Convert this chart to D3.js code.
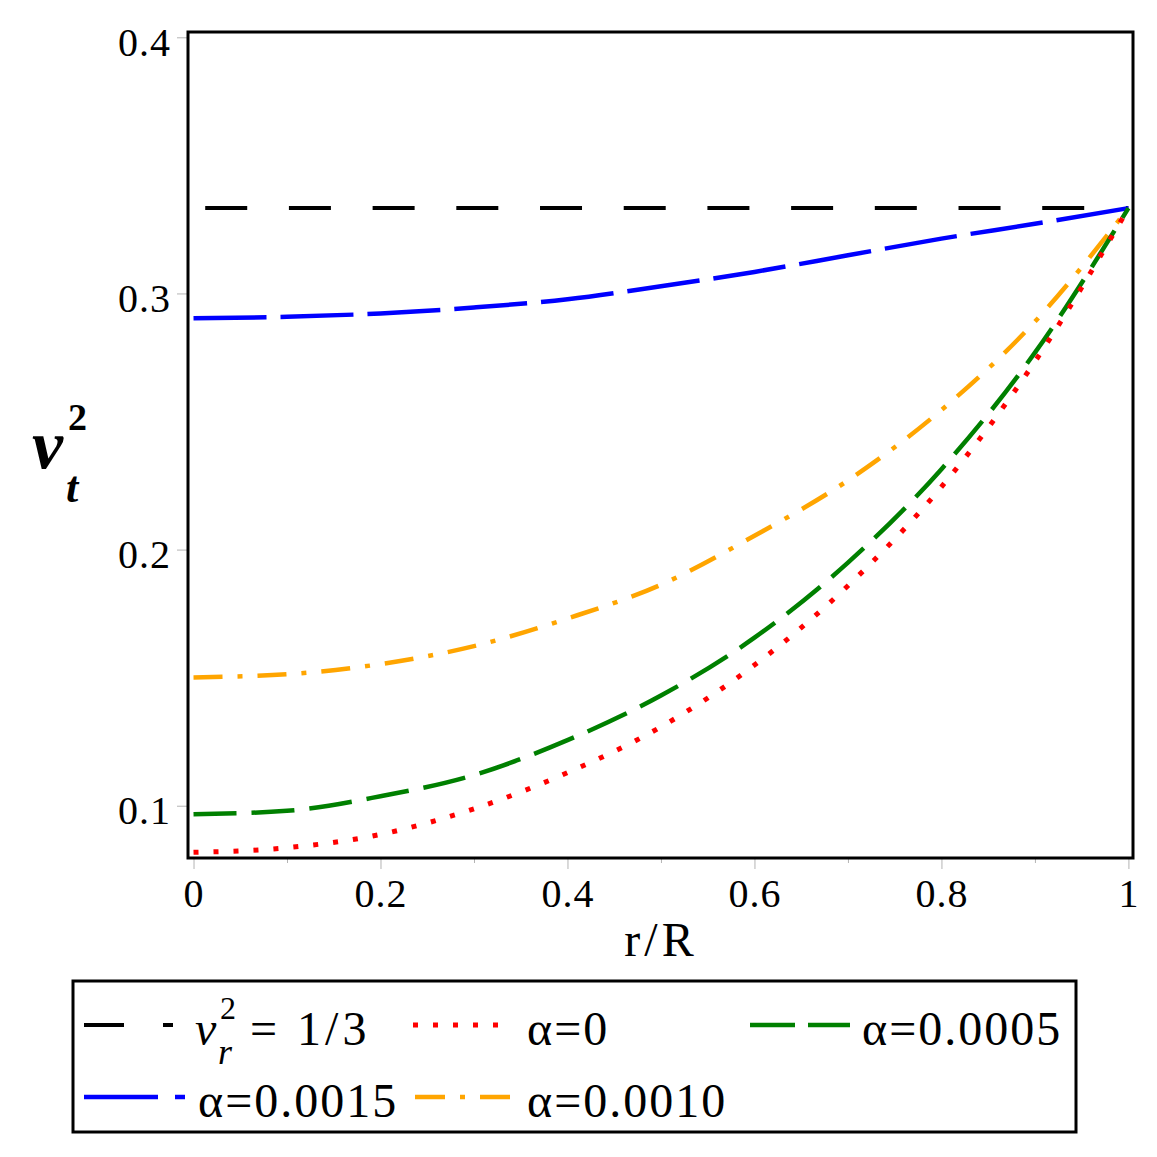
<!DOCTYPE html>
<html>
<head>
<meta charset="utf-8">
<script src="https://cdn.jsdelivr.net/npm/d3@7"></script>
<style>
  html, body { margin: 0; padding: 0; background: #fff; }
  svg { display: block; font-family: "Liberation Serif", "DejaVu Serif", serif; }
</style>
</head>
<body>
<div id="chart"></div>
<script>
// r/R sample points
const radius = [0, 0.1, 0.2, 0.3, 0.4, 0.5, 0.6, 0.7, 0.8, 0.9, 1]

// v_t^2, one array per alpha
const alpha0 = [0.0818, 0.0836, 0.0888, 0.0988, 0.1129, 0.1308, 0.1549, 0.1859, 0.2245, 0.2734, 0.3333]
const alpha0005 = [0.0967, 0.0980, 0.1037, 0.1120, 0.1256, 0.1430, 0.1656, 0.1949, 0.2314, 0.2769, 0.3333]
const alpha0010 = [0.1501, 0.1513, 0.1553, 0.1623, 0.1731, 0.1863, 0.2054, 0.2270, 0.2545, 0.2890, 0.3333]
const alpha0015 = [0.2903, 0.2909, 0.2922, 0.2945, 0.2977, 0.3028, 0.3084, 0.3149, 0.3214, 0.3272, 0.3333]
const radialLevel = [1 / 3, 1 / 3]
const radialRadius = [0, 1]

const xTicks = [0, 0.2, 0.4, 0.6, 0.8, 1]
const xMinorTicks = [0.1, 0.3, 0.5, 0.7, 0.9]
const yTicks = [0.1, 0.2, 0.3, 0.4]

document.addEventListener('DOMContentLoaded', () => draw());

function draw() {
    const W = 1157, H = 1157
    const frame = { left: 188, right: 1133, top: 32, bottom: 858 }

    const svg = d3.select('#chart').append('svg')
        .attr('width', W).attr('height', H)
        .attr('viewBox', [0, 0, W, H])

    const x = d3.scaleLinear().domain([-0.0059, 1.0049]).range([frame.left, frame.right])
    const y = d3.scaleLinear().domain([0.07959, 0.40207]).range([frame.bottom, frame.top])

    // axes, light grey outward ticks
    const fmt = d3.format('~g')
    svg.append('g')
        .attr('transform', `translate(0, ${frame.bottom})`)
        .call(d3.axisBottom(x).tickValues(xTicks).tickSize(11).tickPadding(10).tickFormat(fmt))
    svg.append('g')
        .attr('transform', `translate(0, ${frame.bottom})`)
        .call(d3.axisBottom(x).tickValues(xMinorTicks).tickSize(5).tickFormat(''))
    const gy = svg.append('g')
        .attr('transform', `translate(${frame.left}, 0)`)
        .call(d3.axisLeft(y).tickValues(yTicks).tickSize(11).tickPadding(6).tickFormat(d3.format('.1f')))
    svg.selectAll('.domain').remove()
    svg.selectAll('.tick line').attr('stroke', '#b4b4b4').attr('stroke-width', 1)
    svg.selectAll('.tick text')
        .attr('fill', '#000')
        .attr('font-family', '"Liberation Serif", serif')
        .attr('font-size', 40)
        .attr('letter-spacing', 1)
    gy.selectAll('.tick text').attr('dy', '0.45em')

    svg.append('clipPath').attr('id', 'plot-clip')
        .append('rect')
        .attr('x', frame.left).attr('y', frame.top)
        .attr('width', frame.right - frame.left).attr('height', frame.bottom - frame.top)

    const series = [
        { xs: radialRadius, ys: radialLevel, color: '#000000', dash: '42 41.7', legendDash: '40 39', offset: 72, width: 4 },
        { xs: radius, ys: alpha0015, color: '#0000ff', dash: '73 14', legendDash: '74 17', offset: 0, width: 4.5 },
        { xs: radius, ys: alpha0010, color: '#ffa500', dash: '29 15 5 15', legendDash: '30 15 5 15', offset: 0, width: 4.5 },
        { xs: radius, ys: alpha0005, color: '#008000', dash: '43 15', legendDash: '45 13', offset: 0, width: 4.5 },
        { xs: radius, ys: alpha0, color: '#ff0000', dash: '5 15', legendDash: '5 15', offset: 0, width: 5 }
    ]

    const line = d3.line()
        .x(d => x(d[0]))
        .y(d => y(d[1]))
        .curve(d3.curveMonotoneX)

    svg.append('g').attr('clip-path', 'url(#plot-clip)')
        .selectAll('path')
        .data(series)
        .join('path')
        .attr('d', s => line(s.xs.map((v, i) => [v, s.ys[i]])))
        .attr('fill', 'none')
        .attr('stroke', s => s.color)
        .attr('stroke-width', s => s.width)
        .attr('stroke-dasharray', s => s.dash)
        .attr('stroke-dashoffset', s => s.offset)

    // frame
    svg.append('rect')
        .attr('x', frame.left).attr('y', frame.top)
        .attr('width', frame.right - frame.left).attr('height', frame.bottom - frame.top)
        .attr('fill', 'none').attr('stroke', '#000').attr('stroke-width', 3)

    // axis titles
    svg.append('text')
        .attr('x', 661).attr('y', 956)
        .attr('text-anchor', 'middle')
        .attr('font-size', 48)
        .attr('letter-spacing', 4)
        .text('r/R')

    const yTitle = svg.append('g').attr('font-weight', 'bold')
    yTitle.append('text').attr('x', 32).attr('y', 468)
        .attr('font-size', 70).attr('font-style', 'italic').text('ν')
    yTitle.append('text').attr('x', 68).attr('y', 430)
        .attr('font-size', 38).text('2')
    yTitle.append('text').attr('x', 66).attr('y', 502)
        .attr('font-size', 44).attr('font-style', 'italic').text('t')

    // legend
    const legend = svg.append('g').attr('font-size', 48)
    legend.append('rect')
        .attr('x', 73).attr('y', 981).attr('width', 1003).attr('height', 151)
        .attr('fill', 'none').attr('stroke', '#000').attr('stroke-width', 3)

    const legendItems = [
        { s: series[0], x0: 84, len: 89, ly: 1025, label: null, tx: 0 },
        { s: series[4], x0: 413, len: 97, ly: 1025, label: 'α=0', tx: 527 },
        { s: series[3], x0: 750, len: 100, ly: 1025, label: 'α=0.0005', tx: 862 },
        { s: series[1], x0: 84, len: 101, ly: 1097, label: 'α=0.0015', tx: 198 },
        { s: series[2], x0: 415, len: 95, ly: 1097, label: 'α=0.0010', tx: 527 }
    ]
    legendItems.forEach(item => {
        legend.append('line')
            .attr('x1', item.x0).attr('x2', item.x0 + item.len)
            .attr('y1', item.ly).attr('y2', item.ly)
            .attr('stroke', item.s.color)
            .attr('stroke-width', item.s.width)
            .attr('stroke-dasharray', item.s.legendDash)
        if (item.label) {
            legend.append('text')
                .attr('x', item.tx).attr('y', item.ly + 20)
                .attr('letter-spacing', 2)
                .text(item.label)
        }
    })
    // nu_r^2 = 1/3 label
    legend.append('text').attr('x', 195).attr('y', 1045)
        .attr('font-style', 'italic').text('ν')
    legend.append('text').attr('x', 220).attr('y', 1019)
        .attr('font-size', 32).text('2')
    legend.append('text').attr('x', 218).attr('y', 1064)
        .attr('font-size', 36).attr('font-style', 'italic').text('r')
    legend.append('text').attr('x', 250).attr('y', 1045)
        .attr('letter-spacing', 4)
        .text('= 1/3')
}
</script>
</body>
</html>
